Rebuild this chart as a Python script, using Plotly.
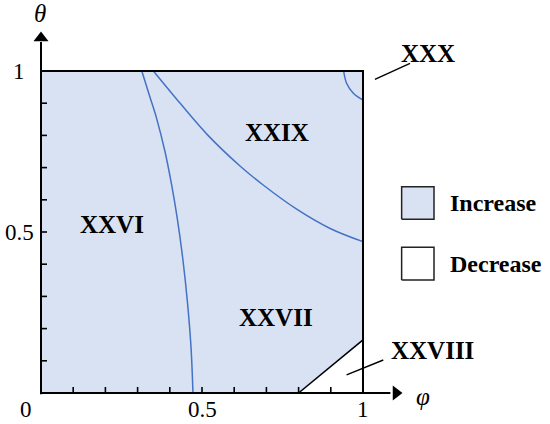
import plotly.graph_objects as go

# ---------------- data ----------------
# boundary XXVI / XXVII  (phi, theta)
c1_phi = [0.313, 0.338, 0.359, 0.385, 0.405, 0.422, 0.440, 0.455, 0.466, 0.472]
c1_theta = [1.0, 0.92, 0.853, 0.75, 0.65, 0.55, 0.42, 0.28, 0.14, 0.0]
# boundary XXIX
c2_phi = [0.349, 0.411, 0.515, 0.618, 0.690, 0.794, 0.898, 1.0]
c2_theta = [1.0, 0.925, 0.804, 0.705, 0.646, 0.571, 0.511, 0.47]
# boundary XXX
c3_phi = [0.94, 0.949, 0.970, 1.0]
c3_theta = [1.0, 0.962, 0.931, 0.91]
# boundary XXVIII (straight)
c4_phi = [0.80, 1.0]
c4_theta = [0.0, 0.165]

# increase region polygon
inc_phi = [0, 0.80, 1.0, 1.0, 0, 0]
inc_theta = [0, 0, 0.165, 1.0, 1.0, 0]

minor_ticks = [0.1, 0.2, 0.3, 0.4, 0.5, 0.6, 0.7, 0.8, 0.9]
x_tick_vals = [0.5, 1.0]
x_tick_text = ["0.5", "1"]
y_tick_vals = [0.5, 1.0]
y_tick_text = ["0.5", "1"]

region_labels = ["XXVI", "XXIX", "XXVII", "XXX", "XXVIII"]
region_phi = [0.219, 0.734, 0.730, 1.203, 1.217]
region_theta = [0.523, 0.808, 0.236, 1.053, 0.131]

legend_labels = ["Increase", "Decrease"]
legend_colors = ["rgb(217,226,243)", "white"]

# ---------------- figure ----------------
W, H = 550, 424
x0px, y0px, unit = 41.0, 393.0, 322.0   # pixel position of origin
xr = [-x0px / unit, (W - x0px) / unit]
yr = [(y0px - H) / unit, y0px / unit]

BLUE = "#4472C4"
FONT = "Liberation Serif"

fig = go.Figure()

fig.add_trace(go.Scatter(x=inc_phi, y=inc_theta, mode="lines", fill="toself",
                         fillcolor=legend_colors[0], line=dict(width=0),
                         hoverinfo="skip", showlegend=False))

for px, py, col, w in [(c1_phi, c1_theta, BLUE, 1.5), (c2_phi, c2_theta, BLUE, 1.5),
                       (c3_phi, c3_theta, BLUE, 1.5), (c4_phi, c4_theta, "black", 1.6)]:
    fig.add_trace(go.Scatter(x=px, y=py, mode="lines", line=dict(color=col, width=w, shape="spline"),
                             hoverinfo="skip", showlegend=False))

# border top & right
fig.add_trace(go.Scatter(x=[0, 1, 1], y=[1, 1, 0], mode="lines",
                         line=dict(color="black", width=2), showlegend=False, hoverinfo="skip"))
# axes
fig.add_trace(go.Scatter(x=[0, 1.085], y=[0, 0], mode="lines",
                         line=dict(color="black", width=2), showlegend=False, hoverinfo="skip"))
fig.add_trace(go.Scatter(x=[0, 0], y=[-0.004, 1.09], mode="lines",
                         line=dict(color="black", width=2), showlegend=False, hoverinfo="skip"))
fig.add_trace(go.Scatter(x=[(396 - x0px) / unit], y=[0], mode="markers",
                         marker=dict(symbol="triangle-right", size=13, color="black"),
                         showlegend=False, hoverinfo="skip"))
fig.add_trace(go.Scatter(x=[0], y=[(y0px - 38) / unit], mode="markers",
                         marker=dict(symbol="triangle-up", size=13, color="black"),
                         showlegend=False, hoverinfo="skip"))

# minor ticks
tl = 6 / unit
tx, ty = [], []
for t in minor_ticks:
    tx += [t, t, None]
    ty += [0, tl, None]
for t in minor_ticks:
    tx += [0, tl, None]
    ty += [t, t, None]
fig.add_trace(go.Scatter(x=tx, y=ty, mode="lines", line=dict(color="black", width=1.6),
                         showlegend=False, hoverinfo="skip"))

# leader lines
fig.add_trace(go.Scatter(x=[1.146, 1.037, None, 1.063, 0.949], y=[1.024, 0.974, None, 0.1025, 0.056],
                         mode="lines", line=dict(color="black", width=1.4),
                         showlegend=False, hoverinfo="skip"))

# legend boxes
lx0, lx1 = 1.120, 1.2205
boxes = [(0.5394, 0.6407), (0.351, 0.4525)]
for (b0, b1), col, lab in zip(boxes, legend_colors, legend_labels):
    fig.add_trace(go.Scatter(x=[lx0, lx1, lx1, lx0, lx0], y=[b0, b0, b1, b1, b0], mode="lines",
                             fill="toself", fillcolor=col, line=dict(color="#222", width=1.5),
                             showlegend=False, hoverinfo="skip"))
    fig.add_annotation(x=(448 - x0px) / unit, y=(b0 + b1) / 2, text="<b>%s</b>" % lab,
                       showarrow=False, xanchor="left", yanchor="middle",
                       font=dict(family=FONT, size=24, color="black"))

# region labels
for lab, px, py in zip(region_labels, region_phi, region_theta):
    fig.add_annotation(x=px, y=py, text="<b>%s</b>" % lab, showarrow=False,
                       xanchor="center", yanchor="middle",
                       font=dict(family=FONT, size=25, color="black"))

# tick labels
tick_font = dict(family=FONT, size=23, color="black")
for v, t in zip(x_tick_vals, x_tick_text):
    fig.add_annotation(x=v, y=-0.052, text=t, showarrow=False, xanchor="center",
                       yanchor="middle", font=tick_font)
for v, t in zip(y_tick_vals, y_tick_text):
    fig.add_annotation(x=-0.068, y=v, text=t, showarrow=False, xanchor="center",
                       yanchor="middle", font=tick_font)
fig.add_annotation(x=-0.047, y=-0.052, text="0", showarrow=False, xanchor="center",
                   yanchor="middle", font=tick_font)

# axis titles
fig.add_annotation(x=-0.003, y=(y0px - 13) / unit, text="<i>θ</i>", showarrow=False,
                   font=dict(family=FONT, size=25, color="black"))
fig.add_annotation(x=(423 - x0px) / unit, y=(y0px - 396) / unit, text="<i>φ</i>", showarrow=False,
                   font=dict(family=FONT, size=25, color="black"))

fig.update_layout(width=W, height=H, autosize=False,
                  margin=dict(l=0, r=0, t=0, b=0, pad=0),
                  paper_bgcolor="white", plot_bgcolor="white",
                  xaxis=dict(range=xr, visible=False, fixedrange=True),
                  yaxis=dict(range=yr, visible=False, fixedrange=True),
                  showlegend=False, hovermode=False)

fig.write_html("out.html", config={"displayModeBar": False, "staticPlot": True},
               post_script="document.body.style.margin='0px';document.body.style.overflow='hidden';")
